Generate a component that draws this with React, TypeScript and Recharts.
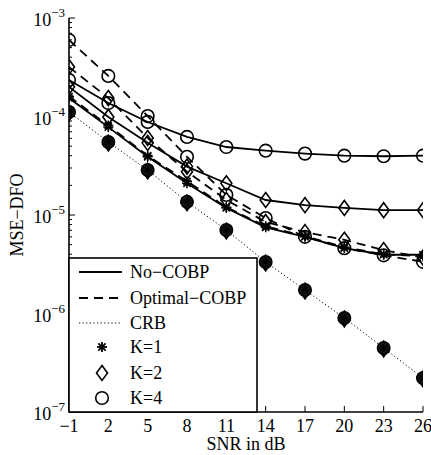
import React from 'react';
import { LineChart, Line, XAxis, YAxis } from 'recharts';

const snr = [-1, 2, 5, 8, 11, 14, 17, 20, 23, 26];
const noCobpK1 = [1.54e-4, 7.8e-5, 3.9e-5, 2.1e-5, 1.18e-5, 7.5e-6, 6.0e-6, 4.6e-6, 3.95e-6, 3.95e-6];
const noCobpK2 = [2.0e-4, 9.9e-5, 5.4e-5, 3.1e-5, 2.1e-5, 1.42e-5, 1.26e-5, 1.18e-5, 1.12e-5, 1.12e-5];
const noCobpK4 = [2.35e-4, 1.37e-4, 8.8e-5, 6.2e-5, 4.9e-5, 4.5e-5, 4.2e-5, 4.0e-5, 3.95e-5, 4.0e-5];
const optK1 = [1.6e-4, 8.1e-5, 4.0e-5, 2.2e-5, 1.2e-5, 7.7e-6, 6.1e-6, 4.7e-6, 4.0e-6, 3.8e-6];
const optK2 = [3.18e-4, 1.54e-4, 6.05e-5, 2.75e-5, 1.42e-5, 8.5e-6, 6.7e-6, 5.6e-6, 4.4e-6, 3.7e-6];
const optK4 = [5.98e-4, 2.58e-4, 1.01e-4, 3.9e-5, 1.6e-5, 9.3e-6, 6.0e-6, 4.6e-6, 3.9e-6, 3.35e-6];
const crb = [1.11e-4, 5.5e-5, 2.86e-5, 1.36e-5, 7.05e-6, 3.33e-6, 1.73e-6, 9.0e-7, 4.47e-7, 2.21e-7];

const xTicks = [-1, 2, 5, 8, 11, 14, 17, 20, 23, 26];
const yDecadeExps = [-7, -6, -5, -4, -3];
const yMinorMult = [2, 3, 4, 5, 6, 7, 8, 9];

const legendLineLabels = ['No\u2212COBP', 'Optimal\u2212COBP', 'CRB'];
const legendMarkerLabels = ['K=1', 'K=2', 'K=4'];

const FONT = '"Liberation Serif", "Times New Roman", serif';
const TM = 4;

const yTicks: number[] = [];
yDecadeExps.forEach((e, i) => {
  yTicks.push(Math.pow(10, e));
  if (i < yDecadeExps.length - 1) yMinorMult.forEach((m) => yTicks.push(m * Math.pow(10, e)));
});

const data = snr.map((s, i) => ({
  snr: s,
  n1: noCobpK1[i],
  n2: noCobpK2[i],
  n4: noCobpK4[i],
  o1: optK1[i],
  o2: optK2[i],
  o4: optK4[i],
  crb: crb[i],
}));

const isDecade = (v: number) => {
  const l = Math.log10(v);
  return Math.abs(l - Math.round(l)) < 1e-6;
};

const Star = ({ cx, cy, r = 5, sw = 1.5 }: any) => (
  <g stroke="#000" strokeWidth={sw}>
    <line x1={cx - r} y1={cy} x2={cx + r} y2={cy} />
    <line x1={cx} y1={cy - r} x2={cx} y2={cy + r} />
    <line x1={cx - r * 0.72} y1={cy - r * 0.72} x2={cx + r * 0.72} y2={cy + r * 0.72} />
    <line x1={cx - r * 0.72} y1={cy + r * 0.72} x2={cx + r * 0.72} y2={cy - r * 0.72} />
  </g>
);
const Diamond = ({ cx, cy, fill = 'none' }: any) => (
  <polygon
    points={`${cx},${cy - 7.5} ${cx + 5.5},${cy} ${cx},${cy + 7.5} ${cx - 5.5},${cy}`}
    fill={fill}
    stroke="#000"
    strokeWidth={1.6}
  />
);
const Circle = ({ cx, cy, fill = 'none' }: any) => (
  <circle cx={cx} cy={cy} r={6.3} fill={fill} stroke="#000" strokeWidth={1.6} />
);

const starDot = (p: any) => <g key={p.key}><Star cx={p.cx} cy={p.cy} /></g>;
const diamondDot = (p: any) => <g key={p.key}><Diamond cx={p.cx} cy={p.cy} /></g>;
const circleDot = (p: any) => <g key={p.key}><Circle cx={p.cx} cy={p.cy} /></g>;
const crbDot = (p: any) => (
  <g key={p.key}>
    <polygon
      points={`${p.cx},${p.cy - 7} ${p.cx + 5.5},${p.cy + 1} ${p.cx},${p.cy + 9} ${p.cx - 5.5},${p.cy + 1}`}
      fill="#111"
      stroke="#000"
      strokeWidth={1.4}
    />
    <circle cx={p.cx} cy={p.cy} r={6.3} fill="#111" stroke="#000" strokeWidth={1.4} />
    <Star cx={p.cx} cy={p.cy} r={4} sw={1} />
  </g>
);

const LeftTick = (p: any) => {
  const v = p.payload.value;
  const ax = p.x + TM;
  const major = isDecade(v);
  const e = Math.round(Math.log10(v));
  return (
    <g>
      <line x1={ax} x2={ax + (major ? 6 : 3)} y1={p.y} y2={p.y} stroke="#000" strokeWidth={1} />
      {major && (
        <text x={p.x} y={p.y + 8} textAnchor="end" fontFamily={FONT} fontSize={18} fill="#000">
          <tspan>10</tspan>
          <tspan dy={-9} fontSize={13}>{'\u2212' + Math.abs(e)}</tspan>
        </text>
      )}
    </g>
  );
};
const RightTick = (p: any) => {
  const v = p.payload.value;
  const ax = p.x - TM;
  const major = isDecade(v);
  return <line x1={ax} x2={ax - (major ? 6 : 3)} y1={p.y} y2={p.y} stroke="#000" strokeWidth={1} />;
};
const BottomTick = (p: any) => {
  const ay = p.y - TM;
  return (
    <g>
      <line x1={p.x} x2={p.x} y1={ay} y2={ay - 6} stroke="#000" strokeWidth={1} />
      <text x={p.x} y={ay + 20} textAnchor="middle" fontFamily={FONT} fontSize={18} fill="#000">
        {p.payload.value < 0 ? '\u2212' + Math.abs(p.payload.value) : String(p.payload.value)}
      </text>
    </g>
  );
};
const TopTick = (p: any) => {
  const ay = p.y + TM;
  return <line x1={p.x} x2={p.x} y1={ay} y2={ay + 6} stroke="#000" strokeWidth={1} />;
};

const YLabel = (p: any) => {
  const vb = p.viewBox;
  const x = vb.x + 23;
  const y = vb.y + vb.height / 2;
  return (
    <text x={x} y={y} transform={`rotate(-90, ${x}, ${y})`} textAnchor="middle" fontFamily={FONT} fontSize={18} fill="#000">
      MSE{'\u2212'}DFO
    </text>
  );
};
const XLabel = (p: any) => {
  const vb = p.viewBox;
  return (
    <text x={vb.x + vb.width / 2} y={vb.y + 38} textAnchor="middle" fontFamily={FONT} fontSize={18} fill="#000">
      SNR in dB
    </text>
  );
};

const LegendBox = () => {
  const rows = [15, 41, 66, 90, 116, 141];
  const dashes = [undefined, '9 6', '1.2 2.4'];
  const widths = [1.8, 1.8, 1];
  return (
    <svg width={190} height={156} style={{ position: 'absolute', left: 68, top: 257 }}>
      <rect x={1} y={1} width={188} height={154} fill="#fff" stroke="#000" strokeWidth={1.6} />
      {legendLineLabels.map((t, i) => (
        <g key={t}>
          <line x1={11} x2={54} y1={rows[i]} y2={rows[i]} stroke="#000" strokeWidth={widths[i]} strokeDasharray={dashes[i]} />
          <text x={62} y={rows[i] + 6} fontFamily={FONT} fontSize={18} fill="#000">{t}</text>
        </g>
      ))}
      {legendMarkerLabels.map((t, i) => {
        const cy = rows[i + 3];
        return (
          <g key={t}>
            {i === 0 && <Star cx={34} cy={cy} r={5} sw={1.8} />}
            {i === 1 && <Diamond cx={34} cy={cy} />}
            {i === 2 && <Circle cx={34} cy={cy} />}
            <text x={62} y={cy + 6} fontFamily={FONT} fontSize={18} fill="#000">{t}</text>
          </g>
        );
      })}
    </svg>
  );
};

export default function App() {
  const lineProps = { stroke: '#000', strokeWidth: 1.8, isAnimationActive: false, xAxisId: 'b', yAxisId: 'l' } as const;
  return (
    <div style={{ position: 'absolute', left: 0, top: 0, width: 431, height: 455, background: '#fff' }}>
      <LineChart width={431} height={455} data={data} margin={{ top: 18, right: 8, bottom: 0, left: 0 }}>
        <XAxis
          xAxisId="b"
          dataKey="snr"
          type="number"
          domain={[-1, 26]}
          allowDataOverflow
          ticks={xTicks}
          interval={0}
          height={43}
          tickSize={0}
          tickMargin={TM}
          tick={<BottomTick />}
          axisLine={{ stroke: '#000', strokeWidth: 1.6 }}
          label={<XLabel />}
        />
        <XAxis
          xAxisId="t"
          orientation="top"
          dataKey="snr"
          type="number"
          domain={[-1, 26]}
          allowDataOverflow
          ticks={xTicks}
          interval={0}
          height={0}
          tickSize={0}
          tickMargin={TM}
          tick={<TopTick />}
          axisLine={{ stroke: '#000', strokeWidth: 1.6 }}
        />
        <YAxis
          yAxisId="l"
          type="number"
          scale="log"
          domain={[1e-7, 1e-3]}
          allowDataOverflow
          ticks={yTicks}
          interval={0}
          width={69}
          tickSize={0}
          tickMargin={TM}
          tick={<LeftTick />}
          axisLine={{ stroke: '#000', strokeWidth: 1.6 }}
          label={<YLabel />}
        />
        <YAxis
          yAxisId="r"
          orientation="right"
          type="number"
          scale="log"
          domain={[1e-7, 1e-3]}
          allowDataOverflow
          ticks={yTicks}
          interval={0}
          width={0}
          tickSize={0}
          tickMargin={TM}
          tick={<RightTick />}
          axisLine={{ stroke: '#000', strokeWidth: 1.6 }}
        />
        <Line {...lineProps} dataKey="crb" strokeWidth={1} strokeDasharray="1.2 2.4" dot={crbDot} />
        <Line {...lineProps} dataKey="o1" strokeDasharray="9 6" dot={starDot} />
        <Line {...lineProps} dataKey="o2" strokeDasharray="9 6" dot={diamondDot} />
        <Line {...lineProps} dataKey="o4" strokeDasharray="9 6" dot={circleDot} />
        <Line {...lineProps} dataKey="n1" dot={starDot} />
        <Line {...lineProps} dataKey="n2" dot={diamondDot} />
        <Line {...lineProps} dataKey="n4" dot={circleDot} />
      </LineChart>
      <LegendBox />
    </div>
  );
}
